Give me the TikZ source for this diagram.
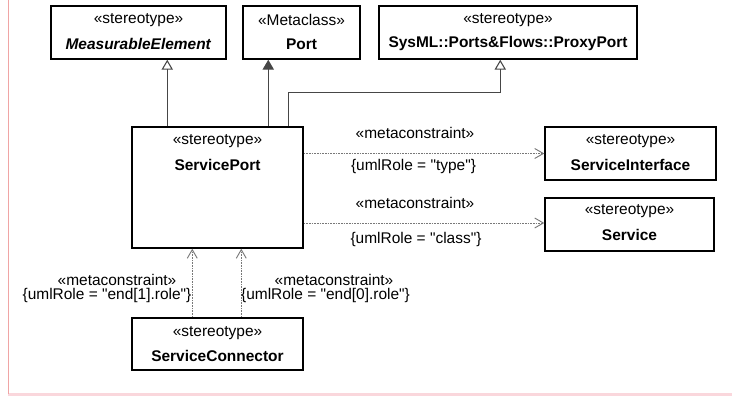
\documentclass[tikz,border=0pt]{standalone}
\usepackage{fontspec}
\setmainfont{Liberation Sans}[Ligatures=TeXOff]
\usetikzlibrary{arrows.meta,calc}
\definecolor{ln}{RGB}{70,70,70}
\definecolor{dsh}{RGB}{120,120,120}
\definecolor{pinkl}{RGB}{240,165,165}
\definecolor{pinkb}{RGB}{250,215,220}
\begin{document}
\begin{tikzpicture}[x=0.75pt,y=-0.75pt,
  box/.style={draw=black,line width=1.1pt,inner sep=0pt,fill=white},
  txt/.style={inner sep=0pt,font=\fontsize{11.6}{13}\selectfont},
  gen/.style={draw=ln,line width=1pt,-{Triangle[open,length=7.5pt,width=8.5pt,line width=0.8pt]}},
  genf/.style={draw=ln,line width=1pt,-{Triangle[length=7.5pt,width=8.5pt]}},
  dep/.style={draw=dsh,line width=0.7pt,dash pattern=on 1.2pt off 0.8pt,
    -{Straight Barb[length=6.5pt,width=7.5pt,line width=0.7pt]}},
]
\useasboundingbox (0,0) rectangle (732,396);
% page margin marks
\fill[pinkb] (8,393) rectangle (732,396);
\draw[pinkl,line width=0.8pt] (8.3,0) -- (8.3,394);

% boxes
\node[box,minimum width=175*0.75pt,minimum height=53*0.75pt] (me) at (138.5,32.5) {};
\node[box,minimum width=117*0.75pt,minimum height=53*0.75pt] (port) at (301.5,32.5) {};
\node[box,minimum width=258*0.75pt,minimum height=53*0.75pt] (proxy) at (508,32.5) {};
\node[box,minimum width=171*0.75pt,minimum height=121*0.75pt] (sp) at (217.5,187.5) {};
\node[box,minimum width=171*0.75pt,minimum height=53*0.75pt] (si) at (630.5,153.5) {};
\node[box,minimum width=169*0.75pt,minimum height=53*0.75pt] (sv) at (629.5,224.5) {};
\node[box,minimum width=171*0.75pt,minimum height=52*0.75pt] (sc) at (217.5,344) {};

% box texts
\node[txt] (me1) at ($(me.north)+(0,14.5)$) {«stereotype»};
\node[txt] (me2) at ($(me.north)+(0,38.5)$) {\textbf{\textit{MeasurableElement}}};
\node[txt] (port1) at ($(port.north)+(0,14.5)$) {«Metaclass»};
\node[txt] (port2) at ($(port.north)+(0,38.5)$) {\textbf{Port}};
\node[txt] (proxy1) at ($(proxy.north)+(0,14.5)$) {«stereotype»};
\node[txt] (proxy2) at ($(proxy.north)+(0,38.5)$) {\textbf{SysML::Ports\&Flows::ProxyPort}};
\node[txt] (sp1) at ($(sp.north)+(0,15)$) {«stereotype»};
\node[txt] (sp2) at ($(sp.north)+(0,38.5)$) {\textbf{ServicePort}};
\node[txt] (si1) at ($(si.north)+(0,14.5)$) {«stereotype»};
\node[txt] (si2) at ($(si.north)+(0,38.5)$) {\textbf{ServiceInterface}};
\node[txt] (sv1) at ($(sv.north)+(0,13.5)$) {«stereotype»};
\node[txt] (sv2) at ($(sv.north)+(0,37.5)$) {\textbf{Service}};
\node[txt] (sc1) at ($(sc.north)+(0,15.5)$) {«stereotype»};
\node[txt] (sc2) at ($(sc.north)+(0,39)$) {\textbf{ServiceConnector}};

% generalizations
\coordinate (g1) at ($(sp.north west)+(36,0)$);
\coordinate (g2) at ($(sp.north west)+(137,0)$);
\coordinate (g3) at ($(sp.north west)+(157,0)$);
\coordinate (g3b) at ($(proxy.south west)+(122,0)$);
\draw[gen] (g1) -- (g1 |- me.south);
\draw[genf] (g2) -- (g2 |- port.south);
\draw[gen] (g3) -- ($(g3)+(0,-34)$) -| (g3b);

% metaconstraints to the right
\draw[dep] (si.west -| sp.east) -- (si.west);
\draw[dep] ($(sv.west -| sp.east)+(0,-1.5)$) -- ($(sv.west)+(0,-1.5)$);
\node[txt] (l1) at (415,133) {«metaconstraint»};
\node[txt] (l2) at (413.5,166) {\{umlRole = "type"\}};
\node[txt] (l3) at (415,203) {«metaconstraint»};
\node[txt] (l4) at (416,239.5) {\{umlRole = "class"\}};

% metaconstraints from ServiceConnector
\coordinate (c1) at ($(sc.north west)+(61,0)$);
\coordinate (c2) at ($(sc.north west)+(110,0)$);
\draw[dep] (c1) -- (c1 |- sp.south);
\draw[dep] (c2) -- (c2 |- sp.south);
\node[txt] (l5) at (117,280) {«metaconstraint»};
\node[txt] (l6) at (107,295.5) {\{umlRole = "end[1].role"\}};
\node[txt] (l7) at (334,280) {«metaconstraint»};
\node[txt] (l8) at (325.5,295.5) {\{umlRole = "end[0].role"\}};
\end{tikzpicture}
\end{document}
